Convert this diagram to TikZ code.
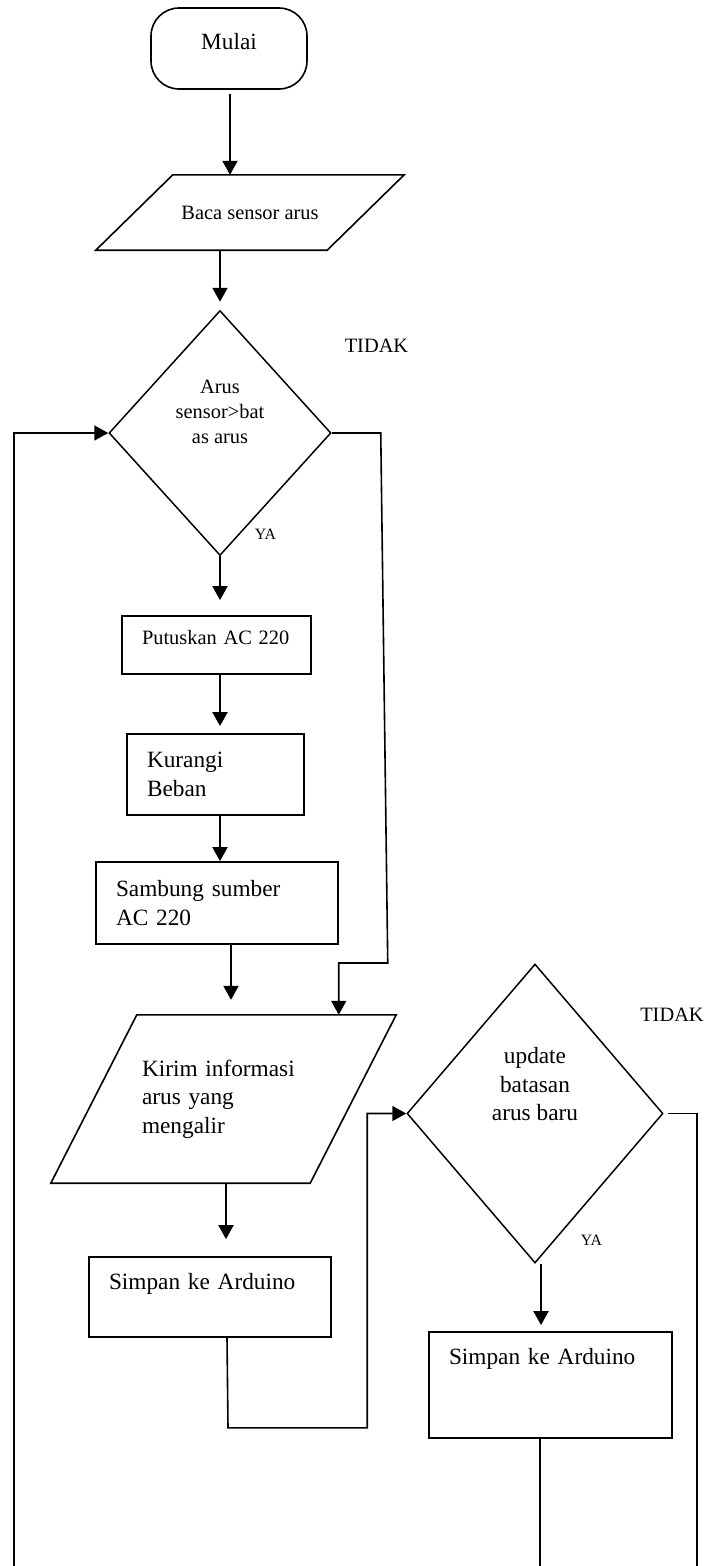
\documentclass[tikz,border=0pt]{standalone}
\usepackage{fontspec}
\setmainfont{Liberation Serif}
\usetikzlibrary{shapes.geometric,arrows.meta}

\newcommand{\fsmain}{\fontsize{23.3}{28.5}\selectfont}
\newcommand{\fssmall}{\fontsize{20.4}{25}\selectfont}
\newcommand{\fsya}{\fontsize{15.8}{18}\selectfont}

\tikzstyle{startstop} = [rectangle, rounded corners=28pt, draw=black, line width=1.6pt, inner sep=0pt, font=\fsmain]
\tikzstyle{io} = [rectangle, inner sep=0pt]
\tikzstyle{ioline} = [draw=black, line width=1.6pt]
\tikzstyle{process} = [rectangle, draw=black, line width=1.8pt, inner xsep=20pt, inner ysep=0pt, align=left, font=\fsmain]
\tikzstyle{decision} = [diamond, draw=black, line width=1.5pt, inner sep=0pt]
\tikzstyle{arrow} = [line width=2pt, -{Triangle[length=14pt,width=15pt]}]
\tikzstyle{line} = [line width=1.6pt]
\tikzstyle{answer} = [inner sep=0pt, font=\fssmall]

\begin{document}
\begin{tikzpicture}[x=1pt, y=-1pt]
	\useasboundingbox (0,0) rectangle (711,1566);

	\node (start) [startstop, minimum width=156pt, text height=41pt, text depth=40pt] at (229,48.5) {Mulai};
	\node (read) [io, minimum width=231pt, minimum height=75pt, font=\fssmall] at (250,212.5) {Baca sensor arus};
	\draw [ioline] ([xshift=38.5pt]read.north west) -- ([xshift=38.5pt]read.north east) -- ([xshift=-38.5pt]read.south east) -- ([xshift=-38.5pt]read.south west) -- cycle;
	\node (dec1) [decision, minimum width=222pt, minimum height=245pt] at (220,433) {};
	\node (dec1txt) [align=center, inner sep=0pt, font=\fssmall] at ([yshift=21pt]dec1.center) {Arus\\sensor>bat\\as arus};
	\node (cut) [process, text width=149pt, text height=28.5pt, text depth=29.5pt, font=\fssmall] at (216.5,645) {Putuskan AC 220};
	\node (reduce) [process, text width=137pt, minimum height=81pt] at (215.5,774.5) {Kurangi\\Beban};
	\node (connect) [process, text width=202pt, minimum height=82pt] at (217,903) {Sambung sumber\\AC 220};
	\node (send) [io, inner xsep=48pt, text width=163pt, minimum height=168pt, align=left, font=\fsmain] at (223.5,1099) {Kirim informasi\\arus yang\\mengalir};
	\draw [ioline] ([xshift=43pt]send.north west) -- ([xshift=43pt]send.north east) -- ([xshift=-43pt]send.south east) -- ([xshift=-43pt]send.south west) -- cycle;
	\node (save1) [process, text width=202pt, text height=32.5pt, text depth=47.5pt] at (210,1297) {Simpan ke Arduino};
	\node (dec2) [decision, minimum width=256pt, minimum height=299pt] at (535,1113.5) {};
	\node (dec2txt) [align=center, inner sep=0pt, font=\fsmain] at ([yshift=29pt]dec2.center) {update\\batasan\\arus baru};
	\node (save2) [process, text width=203pt, text height=32.5pt, text depth=73.5pt] at (550.5,1385) {Simpan ke Arduino};

	\node (no1) [answer] at (376.5,346) {TIDAK};
	\node (yes1) [answer, font=\fsya] at (265.5,534) {YA};
	\node (no2) [answer] at (672,1015) {TIDAK};
	\node (yes2) [answer, font=\fsya] at (591.5,1240) {YA};

	\coordinate (loopL) at (14,1566);
	\coordinate (loopM) at (540,1566);
	\coordinate (loopR) at (697,1566);

	\draw [arrow] ([xshift=1pt,yshift=-4pt]start.south) -- ([xshift=1pt]start.south |- read.north);
	\draw [arrow, shorten >=8pt] (read.south -| dec1.north) -- (dec1.north);
	\draw [arrow, shorten >=15pt] (dec1.south) -- (dec1.south |- cut.north);
	\draw [arrow, shorten >=7pt] (cut.south -| dec1.south) -- (reduce.north -| dec1.south);
	\draw [arrow] (reduce.south -| dec1.south) -- (connect.north -| dec1.south);
	\draw [arrow, shorten >=15pt] ([xshift=14pt]connect.south) -- ([xshift=14pt]connect.south |- send.north);
	\draw [arrow, shorten >=17pt] ([xshift=16pt]save1.north |- send.south) -- ([xshift=16pt]save1.north);
	\draw [arrow, shorten >=6pt] ([xshift=6pt]dec2.south) -- ([xshift=6pt]dec2.south |- save2.north);

	\draw [arrow, line width=1.6pt] (dec1.east) -- ++(49,0) -- ++(7,530) -- ++(-49,0) coordinate (noin) -- (noin |- send.north);
	\draw [arrow, line width=1.6pt] (loopL) |- (dec1.west);
	\draw [arrow, line width=1.6pt] ([xshift=17pt]save1.south) -- ++(1,90) -| ([xshift=-39pt]dec2.west) -- (dec2.west);
	\draw [line] ([xshift=-10.5pt]save2.south) -- (loopM);
	\draw [line] ([xshift=4pt]dec2.east) -| (loopR);
\end{tikzpicture}
\end{document}
